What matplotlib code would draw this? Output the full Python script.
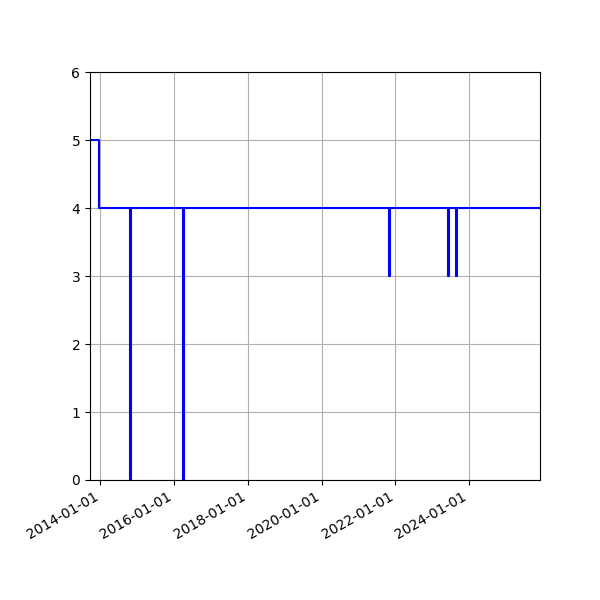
import matplotlib
matplotlib.use("Agg")
import matplotlib.pyplot as plt
import matplotlib.dates as mdates
import numpy as np

dates = np.array([
    "2013-09-19", "2013-12-16",
    "2014-10-24", "2014-11-01",
    "2016-03-30", "2016-04-06",
    "2021-11-02", "2021-11-09",
    "2023-06-10", "2023-06-16",
    "2023-08-20", "2023-08-31",
    "2025-12-04",
], dtype="datetime64[D]")
values = [5, 4, 0, 4, 0, 4, 3, 4, 3, 4, 3, 4, 4]

fig, ax = plt.subplots(figsize=(6, 6), dpi=100)
ax.plot(dates.astype("datetime64[ms]").astype(object), values, color="blue",
        linewidth=1.5, drawstyle="steps-post")
ax.set_ylim(0, 6)
ax.set_xlim(dates[0].astype(object), dates[-1].astype(object))
ax.xaxis.set_major_locator(mdates.YearLocator(2))
ax.xaxis.set_major_formatter(mdates.DateFormatter("%Y-%m-%d"))
ax.grid(True)
fig.autofmt_xdate()
fig.subplots_adjust(left=0.15, right=0.9, top=0.88, bottom=0.2)
fig.savefig("out.png", dpi=100)
